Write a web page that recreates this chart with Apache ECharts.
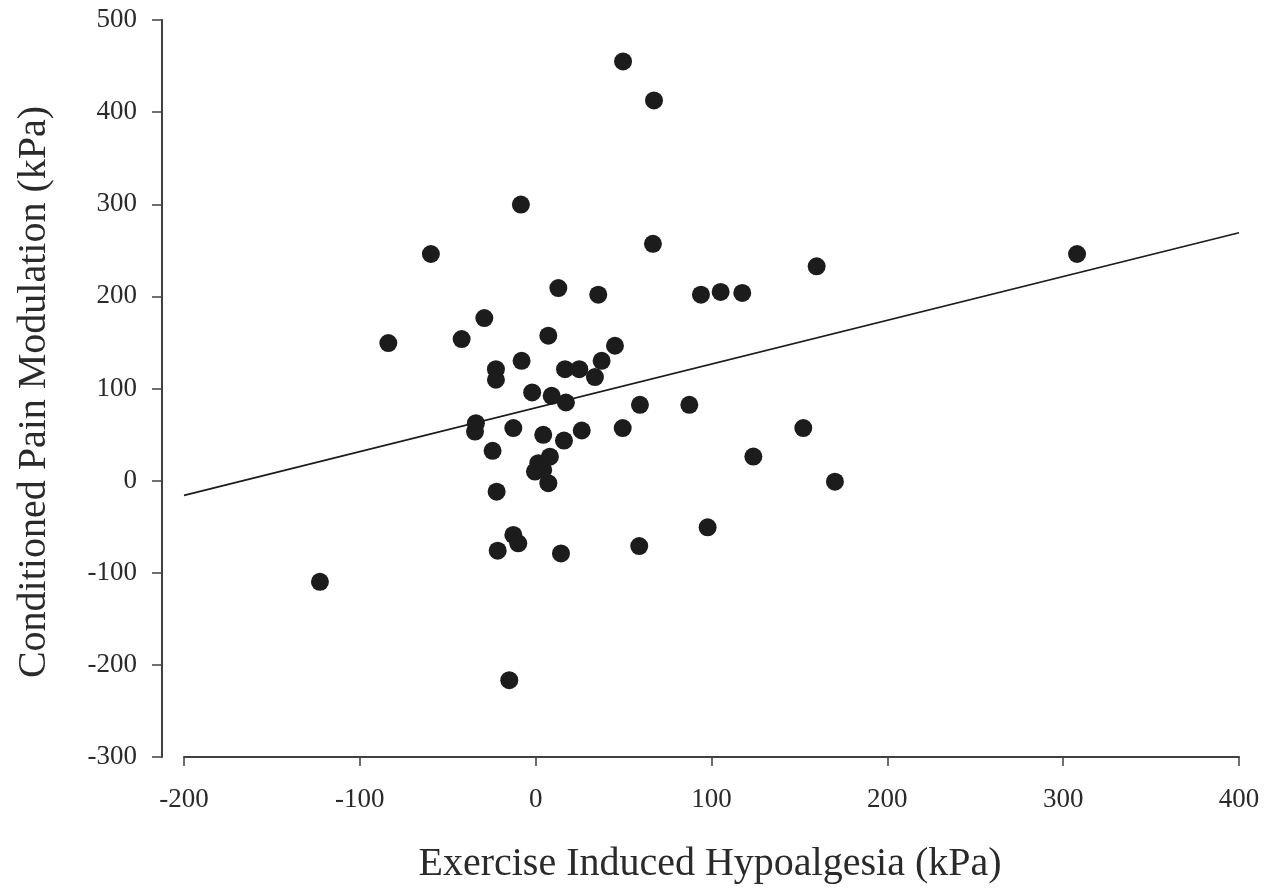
<!DOCTYPE html>
<html>
<head>
<meta charset="utf-8">
<script src="https://cdn.jsdelivr.net/npm/echarts@6/dist/echarts.min.js"></script>
<style>
html,body{margin:0;padding:0;background:#fff;}
#chart{width:1276px;height:890px;}
</style>
</head>
<body>
<div id="chart"></div>
<script>
// Exercise Induced Hypoalgesia (kPa)
var eihValues = [-122.7, -83.8, -59.6, -42.1, -29.2, -34.0, -34.5, -24.5, -22.6, -22.6,
  -22.2, -21.6, -15.0, -12.7, -12.7, -9.9, -8.4, -8.0, -2.0, 4.3,
  -0.4, 1.5, 4.3, 8.1, 7.2, 7.2, 9.1, 12.9, 14.4, 16.1,
  16.7, 17.2, 24.8, 26.2, 33.7, 35.6, 37.5, 45.1, 49.5, 49.7,
  58.9, 59.3, 66.7, 67.3, 87.4, 94.0, 97.8, 105.2, 117.5, 123.8,
  152.2, 159.8, 170.2, 307.9];
// Conditioned Pain Modulation (kPa)
var cpmValues = [-109.8, 149.3, 246, 153.7, 176.5, 62.4, 53.3, 32.3, 121, 109.5,
  -12, -76, -216.6, 57, -59, -68, 299.7, 130, 95.7, 49.7,
  9.8, 18.9, 11.6, 26, -2.8, 157.3, 92, 209, -79, 43.5,
  121, 84.8, 121, 54.4, 112.4, 201.8, 130.1, 146.4, 57, 455,
  -71, 82.3, 257, 412.7, 82.3, 201.8, -50.7, 204.8, 203.7, 26.1,
  57, 232.6, -1.1, 246];
// Regression line end points
var fitX = [-200, 400];
var fitY = [-16, 269];

var xTicks = {min: -200, max: 400, interval: 100};
var yTicks = {min: -300, max: 500, interval: 100};
var xTitle = 'Exercise Induced Hypoalgesia (kPa)';
var yTitle = 'Conditioned Pain Modulation (kPa)';

var points = eihValues.map(function (x, i) { return [x, cpmValues[i]]; });
var fitLine = fitX.map(function (x, i) { return [x, fitY[i]]; });

var FONT = '"Liberation Serif", "Times New Roman", serif';
var chart = echarts.init(document.getElementById('chart'), null, {renderer: 'canvas'});
chart.setOption({
  backgroundColor: '#ffffff',
  animation: false,
  grid: {left: 184, right: 37, top: 20, bottom: 133, containLabel: false},
  xAxis: {
    type: 'value', min: xTicks.min, max: xTicks.max, interval: xTicks.interval,
    axisLine: {show: true, onZero: false, lineStyle: {color: '#404040', width: 2}},
    axisTick: {show: true, inside: false, length: 9, lineStyle: {color: '#404040', width: 1.5}},
    axisLabel: {margin: 29, color: '#2a2a2a', fontFamily: FONT, fontSize: 27},
    splitLine: {show: false}
  },
  yAxis: {
    type: 'value', min: yTicks.min, max: yTicks.max, interval: yTicks.interval,
    offset: 22,
    axisLine: {show: true, onZero: false, lineStyle: {color: '#404040', width: 2}},
    axisTick: {show: true, inside: false, length: 10, lineStyle: {color: '#404040', width: 1.5}},
    axisLabel: {margin: 25, color: '#2a2a2a', fontFamily: FONT, fontSize: 27},
    splitLine: {show: false}
  },
  graphic: [
    {type: 'text', x: 710, y: 864, style: {text: xTitle, font: '40px ' + FONT, fill: '#2a2a2a', textAlign: 'center', textVerticalAlign: 'middle'}},
    {type: 'text', x: 34, y: 392, rotation: Math.PI / 2, style: {text: yTitle, font: '40px ' + FONT, fill: '#2a2a2a', textAlign: 'center', textVerticalAlign: 'middle'}}
  ],
  series: [
    {
      type: 'line', data: fitLine, symbol: 'none', silent: true,
      lineStyle: {color: '#1a1a1a', width: 1.6}, z: 2
    },
    {
      type: 'scatter', data: points, symbol: 'circle', symbolSize: 18,
      itemStyle: {color: '#1c1c1c', opacity: 1}, z: 3
    }
  ]
});
</script>
</body>
</html>
